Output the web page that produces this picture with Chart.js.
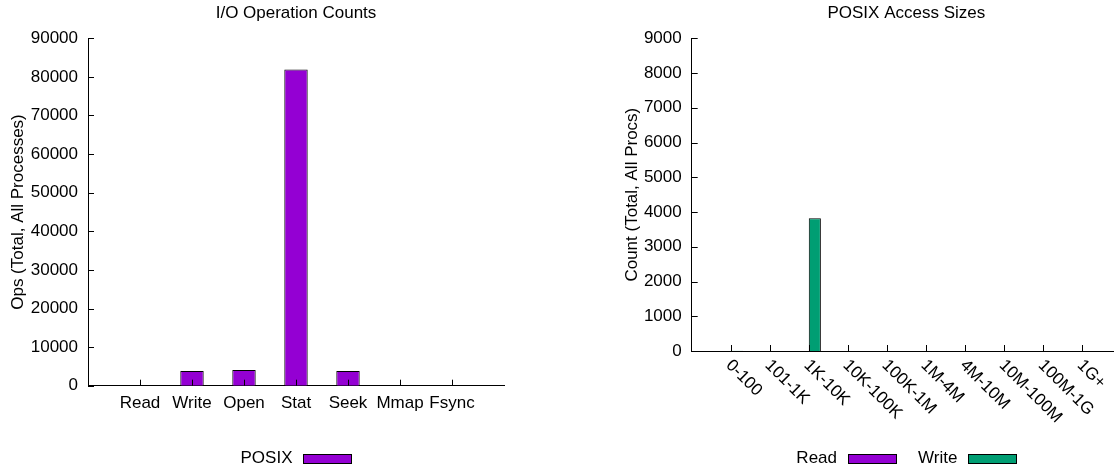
<!DOCTYPE html>
<html>
<head>
<meta charset="utf-8">
<title>I/O Operation Counts / POSIX Access Sizes</title>
<script src="https://cdn.jsdelivr.net/npm/chart.js@4.4.1/dist/chart.umd.min.js"></script>
<style>
    html, body { margin: 0; padding: 0; width: 1114px; height: 467px; overflow: hidden; background: #fff; }
    #opsChart { position: absolute; left: 0; top: 0; }
    #sizeChart { position: absolute; left: 557px; top: 0; }
</style>
</head>
<body>
<canvas id="opsChart" width="557" height="467"></canvas>
<canvas id="sizeChart" width="600" height="467"></canvas>
<script>
// Left panel data
const opCategories = ['Read', 'Write', 'Open', 'Stat', 'Seek', 'Mmap', 'Fsync'];
const posixOps = [0, 3800, 4050, 81900, 3800, 0, 0];
const opsAxisMax = 90000;
const opsAxisStep = 10000;

// Right panel data
const sizeCategories = ['0-100', '101-1K', '1K-10K', '10K-100K', '100K-1M', '1M-4M', '4M-10M', '10M-100M', '100M-1G', '1G+'];
const readSizes = [0, 0, 0, 0, 0, 0, 0, 0, 0, 0];
const writeSizes = [10, 0, 3820, 0, 0, 0, 0, 0, 0, 0];
const sizeAxisMax = 9000;
const sizeAxisStep = 1000;

Chart.defaults.font.family = '"Liberation Sans", Arial, sans-serif';
Chart.defaults.font.size = 17;
Chart.defaults.color = '#000';

// gnuplot style: inward ticks, title, rotated labels, text-then-swatch legend
const gnuplotLook = {
    id: 'gnuplotLook',
    afterDraw(chart, args, opts) {
        const ctx = chart.ctx;
        const area = chart.chartArea;
        const xs = chart.scales.x;
        const ys = chart.scales.y;
        ctx.save();
        ctx.strokeStyle = '#000';
        ctx.lineWidth = 1;
        ctx.beginPath();
        ys.ticks.forEach(t => {
            const py = Math.round(ys.getPixelForValue(t.value)) + 0.5;
            ctx.moveTo(area.left, py);
            ctx.lineTo(area.left + 6, py);
        });
        opts.labels.forEach((l, i) => {
            const px = Math.round(xs.getPixelForValue(i)) + 0.5;
            ctx.moveTo(px, area.bottom);
            ctx.lineTo(px, area.bottom - 6);
        });
        ctx.stroke();

        ctx.fillStyle = '#000';
        ctx.font = '17px "Liberation Sans", Arial, sans-serif';
        ctx.textAlign = 'center';
        ctx.textBaseline = 'middle';
        ctx.fillText(opts.title, (area.left + area.right) / 2, 13);

        if (opts.rotate) {
            ctx.textAlign = 'left';
            ctx.textBaseline = 'alphabetic';
            opts.labels.forEach((l, i) => {
                const px = xs.getPixelForValue(i);
                ctx.save();
                ctx.translate(px - 5.5, area.bottom + 15);
                ctx.rotate(Math.PI / 4);
                ctx.fillText(l, 0, 0);
                ctx.restore();
            });
        }

        // legend centred under the plot
        const sets = chart.data.datasets;
        const swW = 48, swH = 9, gap = 11, entryGap = 22;
        let total = 0;
        sets.forEach((d, i) => {
            total += ctx.measureText(d.label).width + gap + swW + (i ? entryGap : 0);
        });
        let lx = (area.left + area.right) / 2 - total / 2;
        const ly = 458.5;
        ctx.textBaseline = 'middle';
        ctx.textAlign = 'left';
        sets.forEach(d => {
            const w = ctx.measureText(d.label).width;
            ctx.fillStyle = '#000';
            ctx.fillText(d.label, lx, ly);
            lx += w + gap;
            ctx.fillStyle = d.backgroundColor;
            ctx.fillRect(Math.round(lx), 454, swW, swH);
            ctx.strokeRect(Math.round(lx) + 0.5, 454.5, swW, swH);
            lx += swW + entryGap;
        });
        ctx.restore();
    }
};

// I/O Operation Counts
const opsCtx = document.getElementById('opsChart').getContext('2d');
const opsChart = new Chart(opsCtx, {
    type: 'bar',
    data: {
        datasets: [{
            label: 'POSIX',
            data: opCategories.map((c, i) => ({ x: i, y: posixOps[i] })),
            backgroundColor: '#9400d3',
            borderColor: '#000',
            borderWidth: 1,
            barPercentage: 0.45,
            categoryPercentage: 1
        }]
    },
    options: {
        responsive: false,
        animation: false,
        layout: { padding: { left: 0, top: 38.3, right: 53, bottom: 51.3 } },
        plugins: {
            legend: { display: false },
            tooltip: { enabled: false },
            gnuplotLook: { title: 'I/O Operation Counts', labels: opCategories, rotate: false }
        },
        scales: {
            x: {
                type: 'linear',
                offset: false,
                min: -1,
                max: opCategories.length,
                grid: { display: false, drawTicks: false },
                border: { display: true, color: '#000', width: 1 },
                ticks: {
                    stepSize: 1,
                    autoSkip: false,
                    maxRotation: 0,
                    padding: 7,
                    callback: v => opCategories[v] !== undefined ? opCategories[v] : ''
                },
                afterFit: s => { s.height = 30; }
            },
            y: {
                min: 0,
                max: opsAxisMax,
                grid: { display: false, drawTicks: false },
                border: { display: true, color: '#000', width: 1 },
                ticks: { stepSize: opsAxisStep, padding: 10, callback: v => String(v) },
                title: { display: true, text: 'Ops (Total, All Processes)', padding: { top: 7.8, bottom: 0 } },
                afterFit: s => { s.width = 88; }
            }
        }
    },
    plugins: [gnuplotLook]
});

// POSIX Access Sizes
const sizeCtx = document.getElementById('sizeChart').getContext('2d');
const sizeChart = new Chart(sizeCtx, {
    type: 'bar',
    data: {
        datasets: [{
            label: 'Read',
            data: sizeCategories.map((c, i) => ({ x: i, y: readSizes[i] })),
            backgroundColor: '#9400d3',
            borderColor: '#000',
            borderWidth: 1,
            barPercentage: 1,
            categoryPercentage: 0.62
        }, {
            label: 'Write',
            data: sizeCategories.map((c, i) => ({ x: i, y: writeSizes[i] })),
            backgroundColor: '#009e73',
            borderColor: '#000',
            borderWidth: 1,
            barPercentage: 1,
            categoryPercentage: 0.62
        }]
    },
    options: {
        responsive: false,
        animation: false,
        layout: { padding: { left: 0, top: 38.3, right: 36, bottom: 86 } },
        plugins: {
            legend: { display: false },
            tooltip: { enabled: false },
            gnuplotLook: { title: 'POSIX Access Sizes', labels: sizeCategories, rotate: true }
        },
        scales: {
            x: {
                type: 'linear',
                offset: false,
                min: -1,
                max: sizeCategories.length,
                grid: { display: false, drawTicks: false },
                border: { display: true, color: '#000', width: 1 },
                ticks: { display: false, stepSize: 1 },
                afterFit: s => { s.height = 30; }
            },
            y: {
                min: 0,
                max: sizeAxisMax,
                grid: { display: false, drawTicks: false },
                border: { display: true, color: '#000', width: 1 },
                ticks: { stepSize: sizeAxisStep, padding: 10, callback: v => String(v) },
                title: { display: true, text: 'Count (Total, All Procs)', padding: { top: 65.5, bottom: 0 } },
                afterFit: s => { s.width = 134.7; }
            }
        }
    },
    plugins: [gnuplotLook]
});
</script>
</body>
</html>
